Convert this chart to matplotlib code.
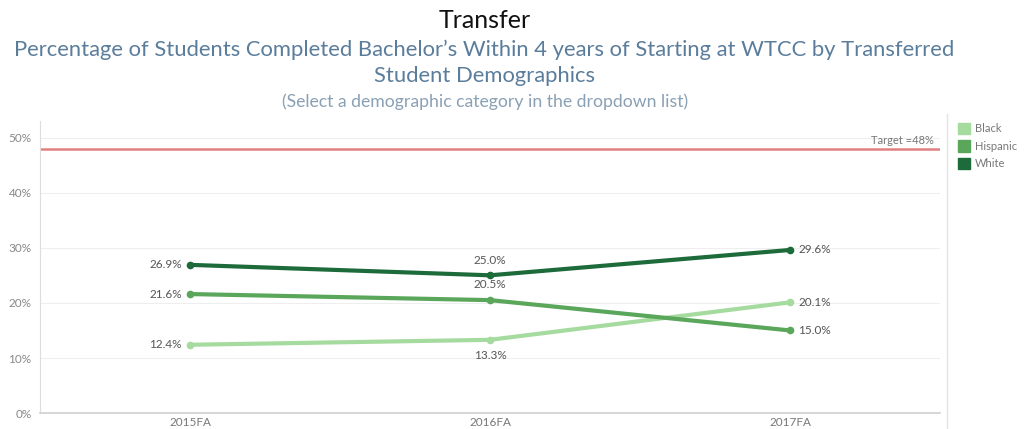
import matplotlib.pyplot as plt
from matplotlib.lines import Line2D
from matplotlib.patches import Rectangle

terms = ['2015FA', '2016FA', '2017FA']
black = [12.4, 13.3, 20.1]
hispanic = [21.6, 20.5, 15.0]
white = [26.9, 25.0, 29.6]
target = 48

plt.rcParams['font.family'] = ['Lato', 'DejaVu Sans']

fig = plt.figure(figsize=(10.31, 4.29), dpi=100)
ax = fig.add_axes([0.0388, 0.037, 0.873, 0.681])

series = [
    ('Black', black, '#a6dba0', ['left', 'below', 'right']),
    ('Hispanic', hispanic, '#5aa65a', ['left', 'above', 'right']),
    ('White', white, '#1d6b3a', ['left', 'above', 'right']),
]
x = range(len(terms))
for name, vals, color, places in series:
    ax.plot(x, vals, color=color, lw=3, marker='o', ms=4.5, solid_capstyle='round', zorder=3)
    for xi, v, p in zip(x, vals, places):
        if p == 'left':
            ax.annotate(f'{v:.1f}%', (xi, v), xytext=(-6, 0), textcoords='offset points',
                        ha='right', va='center', fontsize=8.5, color='#555555')
        elif p == 'right':
            ax.annotate(f'{v:.1f}%', (xi, v), xytext=(6, 0), textcoords='offset points',
                        ha='left', va='center', fontsize=8.5, color='#555555')
        elif p == 'above':
            ax.annotate(f'{v:.1f}%', (xi, v), xytext=(0, 7), textcoords='offset points',
                        ha='center', va='bottom', fontsize=8.5, color='#555555')
        else:
            ax.annotate(f'{v:.1f}%', (xi, v), xytext=(0, -7), textcoords='offset points',
                        ha='center', va='top', fontsize=8.5, color='#555555')

# target reference line
ax.axhline(target, color='#e08080', lw=1.8, zorder=2)
ax.text(2.48, target + 0.4, f'Target ={target}%', ha='right', va='bottom',
        fontsize=8, color='#777777')

ax.set_xlim(-0.5, 2.5)
ax.set_ylim(0, 53)
ax.set_yticks(range(0, 51, 10))
ax.set_yticklabels([f'{t}%' for t in range(0, 51, 10)], fontsize=8.5, color='#888888')
ax.set_xticks(list(x))
ax.set_xticklabels(terms, fontsize=8.5, color='#777777')
ax.tick_params(length=0, pad=3)
ax.tick_params(axis='y', pad=6)
ax.grid(axis='y', color='#eeeeee', lw=0.8)
ax.set_axisbelow(True)
for s in ['top', 'right']:
    ax.spines[s].set_visible(False)
ax.spines['left'].set_color('#dddddd')
ax.spines['bottom'].set_color('#d0d0d0')
ax.spines['bottom'].set_linewidth(1.2)

# legend separator and entries
fig.add_artist(Line2D([0.919, 0.919], [0.0, 0.735], color='#e3e3e3', lw=1))
for i, (name, vals, color, _) in enumerate(series):
    yy = 0.70 - i * 0.041
    fig.add_artist(Rectangle((0.929, yy - 0.013), 0.0115, 0.027, color=color,
                             transform=fig.transFigure))
    fig.text(0.946, yy, name, fontsize=8, color='#777777', va='center')

fig.text(0.47, 0.952, 'Transfer', ha='center', va='center', fontsize=18, color='#111111')
fig.text(0.47, 0.885, 'Percentage of Students Completed Bachelor\u2019s Within 4 years of Starting at WTCC by Transferred',
         ha='center', va='center', fontsize=15.8, color='#5b7d9c')
fig.text(0.47, 0.822, 'Student Demographics', ha='center', va='center', fontsize=15.8, color='#5b7d9c')
fig.text(0.47, 0.763, '(Select a demographic category in the dropdown list)', ha='center', va='center',
         fontsize=12.7, color='#8aa0b4')

fig.savefig('out.png', dpi=100, facecolor='white')
